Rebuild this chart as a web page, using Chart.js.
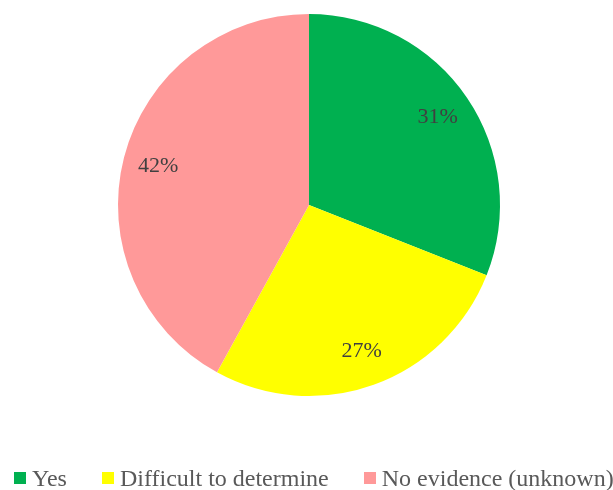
<!DOCTYPE html>
<html>
<head>
<meta charset="utf-8">
<script src="https://cdn.jsdelivr.net/npm/chart.js@4.4.1/dist/chart.umd.min.js"></script>
<style>
  html, body { margin: 0; padding: 0; background: #ffffff; }
  #wrap { width: 613px; height: 490px; position: relative; }
  #legend {
    position: absolute; left: 14px; top: 466px;
    display: flex; white-space: nowrap;
    font: 24px/24px "Liberation Serif", "Times New Roman", serif;
    color: #595959;
  }
  #legend .item { display: flex; align-items: center; margin-right: 35px; }
  #legend .box { width: 12px; height: 12px; margin-right: 6px; }
</style>
</head>
<body>
<div id="wrap">
  <canvas id="chartPie"></canvas>
  <div id="legend"></div>
</div>
<script>
// Данные диаграммы
const categories = ['Yes', 'Difficult to determine', 'No evidence (unknown)'];
const shares = [31, 27, 42];
const sliceColors = ['#00B050', '#FFFF00', '#FF9999'];

// Подписи процентов внутри секторов
const pieLabels = {
  id: 'pieLabels',
  afterDatasetsDraw(chart) {
    const ctx = chart.ctx;
    const meta = chart.getDatasetMeta(0);
    ctx.save();
    ctx.font = '22px "Liberation Serif", "Times New Roman", serif';
    ctx.fillStyle = '#404040';
    ctx.textAlign = 'center';
    ctx.textBaseline = 'middle';
    meta.data.forEach((arc, i) => {
      const mid = (arc.startAngle + arc.endAngle) / 2;
      const r = arc.outerRadius * 0.815;
      ctx.fillText(shares[i] + '%', arc.x + Math.cos(mid) * r, arc.y + Math.sin(mid) * r);
    });
    ctx.restore();
  }
};

const chart = new Chart(document.getElementById('chartPie'), {
  type: 'pie',
  data: {
    labels: categories,
    datasets: [{
      data: shares,
      backgroundColor: sliceColors,
      borderWidth: 0
    }]
  },
  options: {
    responsive: true,
    maintainAspectRatio: false,
    animation: false,
    radius: 191,
    layout: { padding: { left: 5, top: 0, right: 0, bottom: 80 } },
    plugins: {
      tooltip: { enabled: false },
      legend: { display: false }
    }
  },
  plugins: [pieLabels]
});

// Легенда под диаграммой
const legendEl = document.getElementById('legend');
chart.data.labels.forEach((name, i) => {
  const item = document.createElement('span');
  item.className = 'item';
  const box = document.createElement('span');
  box.className = 'box';
  box.style.background = sliceColors[i];
  item.appendChild(box);
  item.appendChild(document.createTextNode(name));
  legendEl.appendChild(item);
});
</script>
</body>
</html>
